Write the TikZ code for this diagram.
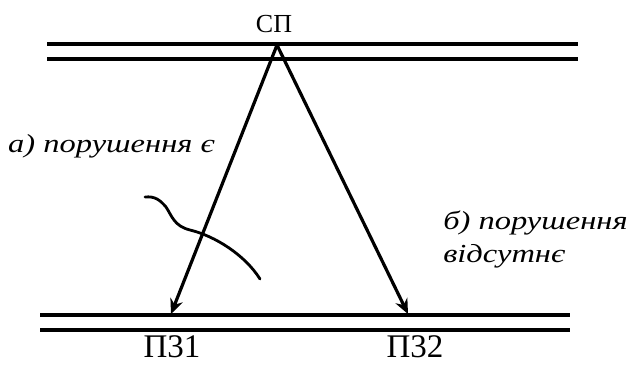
\documentclass[tikz,border=0pt]{standalone}
\usepackage{fontspec}
\setmainfont{Liberation Serif}
\usetikzlibrary{arrows.meta}
\begin{document}
\begin{tikzpicture}[x=1pt,y=-1pt,
  rail/.style={line width=4.4pt},
  link/.style={line width=3.2pt,-{Stealth[length=15pt,width=13pt,inset=5pt]}},
  lab/.style={inner sep=0pt,font=\fontsize{33}{33}\selectfont},
  note/.style={inner sep=0pt,anchor=west,xscale=1.25,font=\itshape\fontsize{26}{26}\selectfont}]
\useasboundingbox (0,0) rectangle (640,365);
% rails
\draw[rail] (47,44) -- (578,44);
\draw[rail] (47,59) -- (578,59);
\draw[rail] (40,315) -- (570,315);
\draw[rail] (40,330) -- (570,330);
% points
\coordinate (sp) at (277,45);
\coordinate (pz1) at (171,314);
\coordinate (pz2) at (408,314);
\node[inner sep=0pt,font=\fontsize{26}{26}\selectfont] (splab) at (274,24) {СП};
\node[lab] (l1) at (172,347) {П31};
\node[lab] (l2) at (415,347) {П32};
% arrows
\draw[link] (sp) -- (pz1);
\draw[link] (sp) -- (pz2);
% break mark
\draw[line width=2.8pt,line cap=round] (145,197) .. controls (155,196) and (160,200) .. (166,207)
  .. controls (172,216) and (174,226) .. (190,230)
  .. controls (215,236) and (245,255) .. (260,279);
% notes
\node[note] (na) at (8,146) {а) порушення є};
\node[note] (nb1) at (443,223) {б) порушення};
\node[note] (nb2) at (443,256) {відсутнє};
\end{tikzpicture}
\end{document}
